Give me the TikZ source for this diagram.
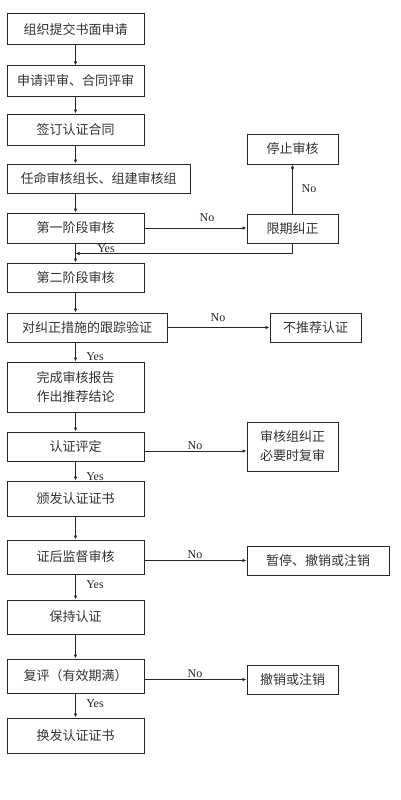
\documentclass[tikz,border=0pt]{standalone}
\usepackage{fontspec}
\newfontfamily\cjk{Noto Sans CJK SC}
\newfontfamily\lat{Liberation Serif}
\usetikzlibrary{calc,arrows.meta}
\begin{document}
\begin{tikzpicture}[x=1pt,y=-1pt,
  box/.style={draw=black!85,line width=1pt,inner sep=0pt,font=\cjk\fontsize{13}{19}\selectfont,text=black!80,align=center},
  arr/.style={draw=black!85,line width=0.8pt,-{Latex[length=4pt,width=3.5pt]}},
  lab/.style={font=\lat\fontsize{12}{12}\selectfont,text=black!85,inner sep=0pt}]
\useasboundingbox (0,0) rectangle (400,800);
\fill[white] (0,0) rectangle (400,800);
% main column
\node[box,minimum width=137pt,minimum height=31pt] (b1) at (75.5,29.5) {组织提交书面申请};
\node[box,minimum width=137pt,minimum height=30pt] (b2) at (75.5,81) {申请评审、合同评审};
\node[box,minimum width=137pt,minimum height=31pt] (b3) at (75.5,129.5) {签订认证合同};
\node[box,minimum width=183pt,minimum height=29pt] (b4) at (98.5,178.5) {任命审核组长、组建审核组};
\node[box,minimum width=137pt,minimum height=30pt] (b5) at (75.5,228) {第一阶段审核};
\node[box,minimum width=137pt,minimum height=29pt] (b6) at (75.5,277.5) {第二阶段审核};
\node[box,minimum width=160pt,minimum height=29pt] (b7) at (87,327.5) {对纠正措施的跟踪验证};
\node[box,minimum width=137pt,minimum height=50pt] (b8) at (75.5,387) {完成审核报告\\作出推荐结论};
\node[box,minimum width=137pt,minimum height=29pt] (b9) at (75.5,446.5) {认证评定};
\node[box,minimum width=137pt,minimum height=35pt] (b10) at (75.5,498.5) {颁发认证证书};
\node[box,minimum width=137pt,minimum height=34pt] (b11) at (75.5,557) {证后监督审核};
\node[box,minimum width=137pt,minimum height=34pt] (b12) at (75.5,617) {保持认证};
\node[box,minimum width=137pt,minimum height=34pt] (b13) at (75.5,676) {复评（有效期满）};
\node[box,minimum width=137pt,minimum height=35pt] (b14) at (75.5,735.5) {换发认证证书};
% right column
\node[box,minimum width=91pt,minimum height=30pt] (stop) at (292.5,149) {停止审核};
\node[box,minimum width=91pt,minimum height=29pt] (fix) at (292.5,228.5) {限期纠正};
\node[box,minimum width=91pt,minimum height=29pt] (norec) at (315.5,327.5) {不推荐认证};
\node[box,minimum width=91pt,minimum height=49pt] (team) at (292.5,446.5) {审核组纠正\\必要时复审};
\node[box,minimum width=142pt,minimum height=29pt] (susp) at (318,560.5) {暂停、撤销或注销};
\node[box,minimum width=91pt,minimum height=29pt] (revoke) at (292.5,679.5) {撤销或注销};
% vertical arrows
\draw[arr] (b1.south) -- (b2.north);
\draw[arr] (b2.south) -- (b3.north);
\draw[arr] (b3.south) -- (b3.south |- b4.north);
\draw[arr] (b5.north |- b4.south) -- (b5.north);
\draw[arr] (b5.south) -- (b6.north);
\draw[arr] (b6.south) -- (b6.south |- b7.north);
\draw[arr] (b8.north |- b7.south) -- (b8.north);
\draw[arr] (b8.south) -- (b9.north);
\draw[arr] (b9.south) -- (b10.north);
\draw[arr] (b10.south) -- (b11.north);
\draw[arr] (b11.south) -- (b12.north);
\draw[arr] (b12.south) -- (b13.north);
\draw[arr] (b13.south) -- (b14.north);
% branches
\draw[arr] (b5.east) -- (b5.east -| fix.west);
\draw[arr] (fix.north) -- (stop.south);
\coordinate (ret) at ($(b5.south)+(0,10)$);
\draw[arr] (fix.south) |- (ret);
\draw[arr] (b7.east) -- (b7.east -| norec.west);
\coordinate (t9) at ($(b9.east)+(0,4.5)$);
\draw[arr] (t9) -- (t9 -| team.west);
\draw[arr] (susp.west -| b11.east) -- (susp.west);
\draw[arr] (revoke.west -| b13.east) -- (revoke.west);
% labels
\node[lab] (n1) at (207,218) {No};
\node[lab] (n2) at (309,189) {No};
\node[lab] (y1) at (106,249) {Yes};
\node[lab] (n3) at (218,318) {No};
\node[lab] (y2) at (95,357) {Yes};
\node[lab] (n4) at (195,446) {No};
\node[lab] (y3) at (95,477) {Yes};
\node[lab] (n5) at (195,555) {No};
\node[lab] (y4) at (95,585) {Yes};
\node[lab] (n6) at (195,674) {No};
\node[lab] (y5) at (95,704) {Yes};
\end{tikzpicture}
\end{document}
